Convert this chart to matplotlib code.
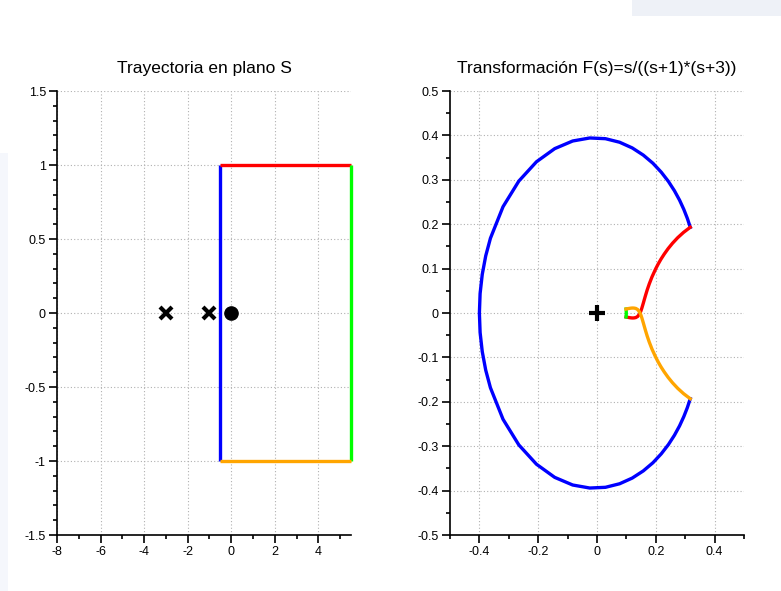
import matplotlib
matplotlib.use("Agg")
import matplotlib.pyplot as plt
from matplotlib.patches import Rectangle
from matplotlib.ticker import MultipleLocator

plt.rcParams['font.family'] = ['Liberation Sans', 'DejaVu Sans']

# Trayectoria en el plano S (rectangulo)
blue_s_x = [-0.5, -0.5]
blue_s_y = [-1.0, 1.0]
red_s_x = [-0.5, 5.5]
red_s_y = [1.0, 1.0]
green_s_x = [5.5, 5.5]
green_s_y = [1.0, -1.0]
orange_s_x = [5.5, -0.5]
orange_s_y = [-1.0, -1.0]
poles_x = [-3, -1]
zeros_x = [0]

# Curvas transformadas F(s)
blue_f_x = [0.3172, 0.3074, 0.2953, 0.2808, 0.2634, 0.2428, 0.2185, 0.1903, 0.1575, 0.1198,
            0.0769, 0.0287, -0.0247, -0.0827, -0.1438, -0.2059, -0.2659, -0.3196, -0.3625, -0.3785,
            -0.3903, -0.3976, -0.4000, -0.3976, -0.3903, -0.3785,
            -0.3625, -0.3196, -0.2659, -0.2059, -0.1438, -0.0827, -0.0247, 0.0287, 0.0769,
            0.1198, 0.1575, 0.1903, 0.2185, 0.2428, 0.2634, 0.2808, 0.2953, 0.3074, 0.3172]
blue_f_y = [-0.1931, -0.2129, -0.2333, -0.2542, -0.2753, -0.2964, -0.3172, -0.3372, -0.3556, -0.3718,
            -0.3846, -0.3926, -0.3942, -0.3874, -0.3702, -0.3406, -0.2971, -0.2394, -0.1683, -0.1287,
            -0.0870, -0.0439, 0.0, 0.0439, 0.0870, 0.1287,
            0.1683, 0.2394, 0.2971, 0.3406, 0.3702, 0.3874, 0.3942, 0.3926, 0.3846,
            0.3718, 0.3556, 0.3372, 0.3172, 0.2964, 0.2753, 0.2542, 0.2333, 0.2129, 0.1931]
red_f_x = [0.3172, 0.2944, 0.2743, 0.2568, 0.2417, 0.2288, 0.2176, 0.2081, 0.2000, 0.1871,
           0.1777, 0.1707, 0.1655, 0.1614, 0.1581, 0.1529, 0.1489, 0.1452, 0.1385, 0.1319,
           0.1256, 0.1196, 0.1138, 0.1085, 0.1035, 0.0989]
red_f_y = [0.1931, 0.1816, 0.1695, 0.1571, 0.1448, 0.1328, 0.1213, 0.1103, 0.1000, 0.0814,
           0.0654, 0.0519, 0.0406, 0.0313, 0.0235, 0.0118, 0.0038, -0.0016, -0.0077, -0.0103,
           -0.0111, -0.0112, -0.0108, -0.0102, -0.0096, -0.0089]
green_f_x = [0.0989, 0.0994, 0.0996, 0.0994, 0.0989]
green_f_y = [-0.0089, -0.0045, 0.0, 0.0045, 0.0089]
orange_f_x = [0.0989, 0.1035, 0.1085, 0.1138, 0.1196, 0.1256, 0.1319, 0.1385, 0.1452, 0.1489,
              0.1529, 0.1581, 0.1614, 0.1655, 0.1707, 0.1777, 0.1871, 0.2000, 0.2081, 0.2176,
              0.2288, 0.2417, 0.2568, 0.2743, 0.2944, 0.3172]
orange_f_y = [0.0089, 0.0096, 0.0102, 0.0108, 0.0112, 0.0111, 0.0103, 0.0077, 0.0016, -0.0038,
              -0.0118, -0.0235, -0.0313, -0.0406, -0.0519, -0.0654, -0.0814, -0.1000, -0.1103, -0.1213,
              -0.1328, -0.1448, -0.1571, -0.1695, -0.1816, -0.1931]

BLUE = '#0000ff'
RED = '#ff0000'
GREEN = '#00ff00'
ORANGE = '#ffa500'
LW = 2.4

fig = plt.figure(figsize=(7.81, 5.91), dpi=100)

# artefactos de la captura de pantalla
fig.patches.append(Rectangle((0, 0), 8 / 781, 438 / 591, transform=fig.transFigure,
                             facecolor='#f5f7fc', edgecolor='none', zorder=-5))
fig.patches.append(Rectangle((632 / 781, 1 - 16 / 591), 149 / 781, 16 / 591, transform=fig.transFigure,
                             facecolor='#eef1f7', edgecolor='none', zorder=-5))

ax1 = fig.add_axes([57 / 781, 56 / 591, 294 / 781, 444 / 591])
ax2 = fig.add_axes([450 / 781, 56 / 591, 294 / 781, 444 / 591])


def style_axes(ax):
  ax.patch.set_alpha(0)
  for side in ['top', 'right']:
    ax.spines[side].set_visible(False)
  for side in ['left', 'bottom']:
    ax.spines[side].set_linewidth(1.2)
  ax.tick_params(which='major', direction='out', length=6, width=1.2, labelsize=9, pad=2)
  ax.tick_params(which='minor', direction='out', length=3, width=1.2)
  ax.grid(True, which='major', linestyle=(0, (1, 2)), color='#b0b0b0', linewidth=0.8)
  ax.set_axisbelow(True)


# Plano S
for xs, ys, c in [(blue_s_x, blue_s_y, BLUE), (red_s_x, red_s_y, RED),
                  (green_s_x, green_s_y, GREEN), (orange_s_x, orange_s_y, ORANGE)]:
  ax1.plot(xs, ys, color=c, lw=LW, solid_capstyle='butt', clip_on=False)
ax1.plot(poles_x, [0] * len(poles_x), 'x', color='black', ms=9, mew=3, ls='none')
ax1.plot(zeros_x, [0] * len(zeros_x), 'o', color='black', ms=9.5, ls='none')
ax1.set_xlim(-8, 5.5)
ax1.set_ylim(-1.5, 1.5)
ax1.set_xticks([-8, -6, -4, -2, 0, 2, 4])
ax1.set_xticklabels(['-8', '-6', '-4', '-2', '0', '2', '4'])
ax1.xaxis.set_minor_locator(MultipleLocator(1))
ax1.set_yticks([-1.5, -1, -0.5, 0, 0.5, 1, 1.5])
ax1.set_yticklabels(['-1.5', '-1', '-0.5', '0', '0.5', '1', '1.5'])
ax1.yaxis.set_minor_locator(MultipleLocator(0.1))
style_axes(ax1)
ax1.set_title('Trayectoria en plano S', fontsize=12.5, pad=13)

# Plano F(s)
for xs, ys, c in [(blue_f_x, blue_f_y, BLUE), (red_f_x, red_f_y, RED),
                  (green_f_x, green_f_y, GREEN), (orange_f_x, orange_f_y, ORANGE)]:
  ax2.plot(xs, ys, color=c, lw=LW)
ax2.plot([0], [0], '+', color='black', ms=11, mew=3, ls='none')
ax2.set_xlim(-0.5, 0.5)
ax2.set_ylim(-0.5, 0.5)
ax2.set_xticks([-0.4, -0.2, 0, 0.2, 0.4])
ax2.set_xticklabels(['-0.4', '-0.2', '0', '0.2', '0.4'])
ax2.xaxis.set_minor_locator(MultipleLocator(0.1))
ax2.set_yticks([-0.5, -0.4, -0.3, -0.2, -0.1, 0, 0.1, 0.2, 0.3, 0.4, 0.5])
ax2.set_yticklabels(['-0.5', '-0.4', '-0.3', '-0.2', '-0.1', '0', '0.1', '0.2', '0.3', '0.4', '0.5'])
ax2.yaxis.set_minor_locator(MultipleLocator(0.05))
style_axes(ax2)
ax2.set_title('Transformación F(s)=s/((s+1)*(s+3))', fontsize=12.5, pad=13)

fig.savefig('out.png', dpi=100)
